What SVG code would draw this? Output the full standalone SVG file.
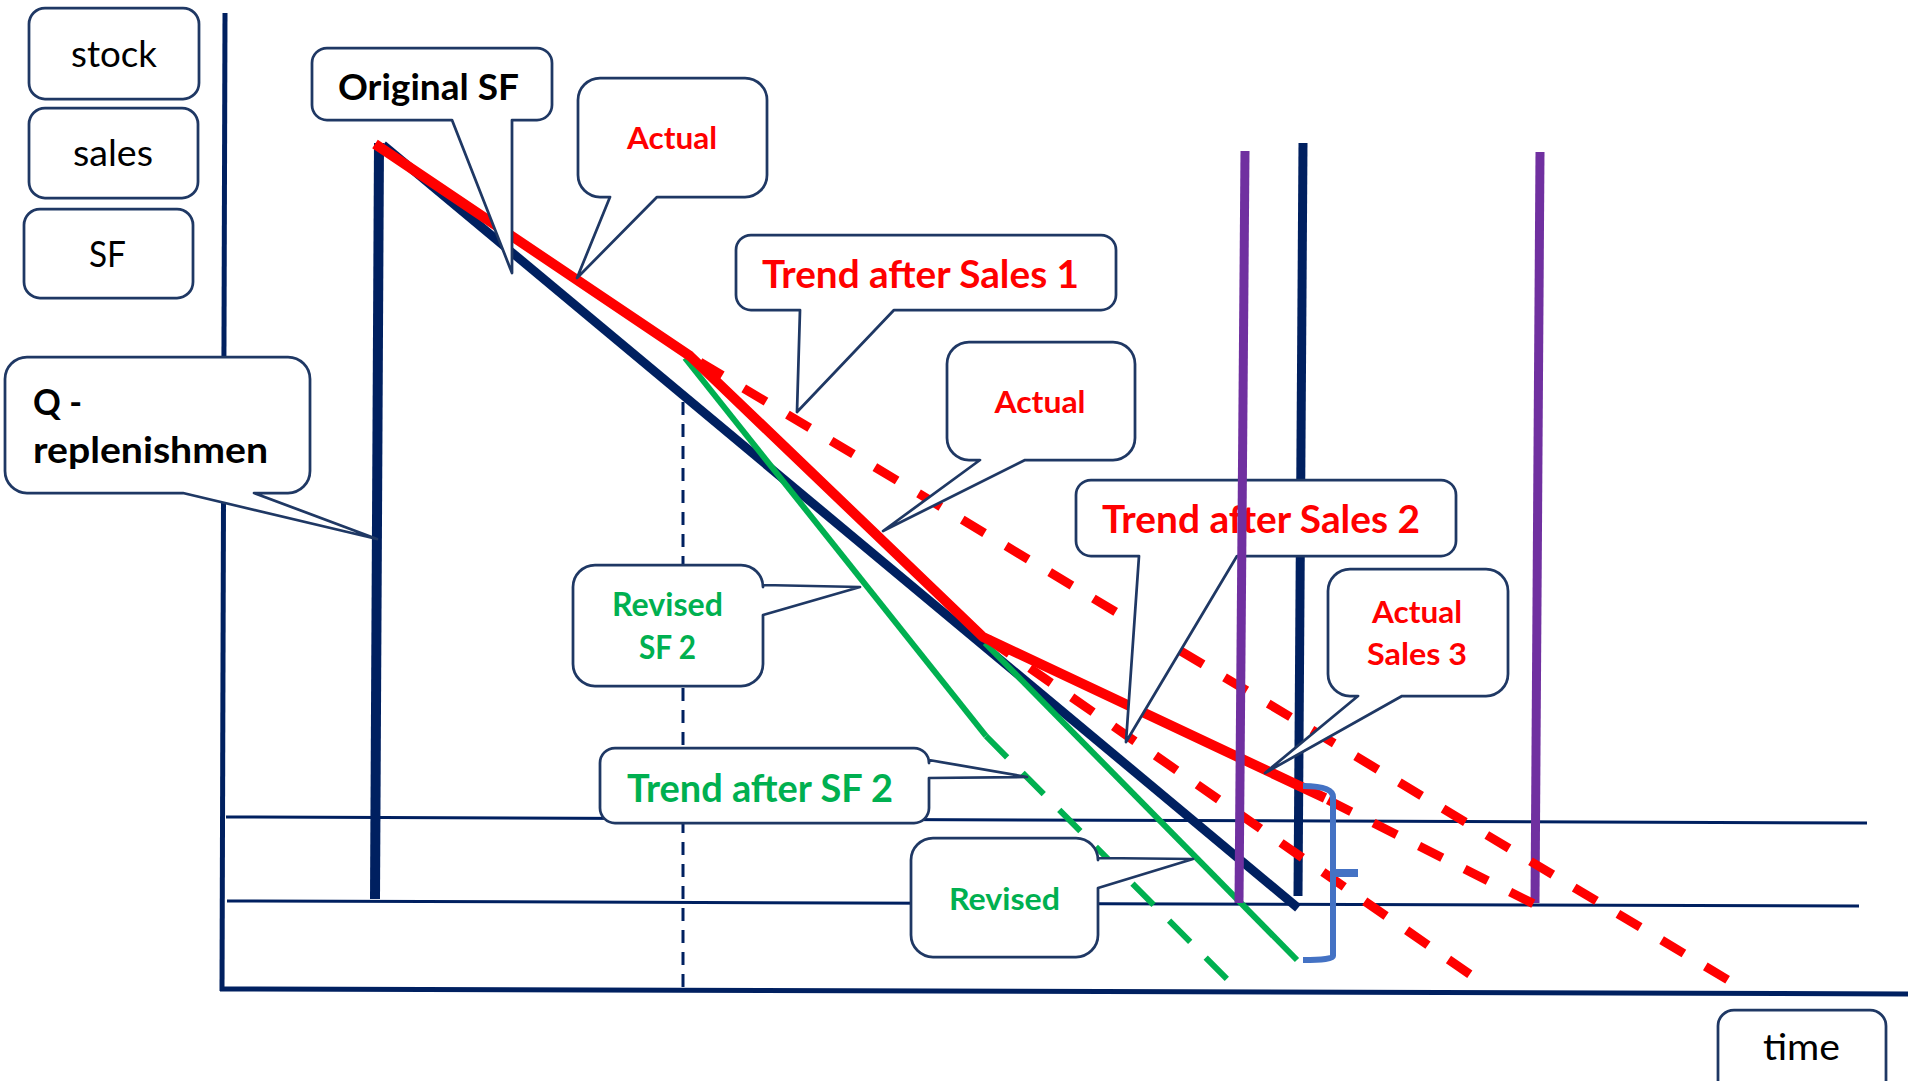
<svg xmlns="http://www.w3.org/2000/svg" width="1908" height="1081" viewBox="0 0 1908 1081">
<style>
  .box{fill:#fff;stroke:#1F3864;stroke-width:2.75;stroke-linejoin:round}
  .t{font-family:Lato,"Liberation Sans",sans-serif}
  .b{font-weight:bold}
  .blk{fill:#000}
  .red{fill:#FF0000}
  .grn{fill:#00B050}
  .axis{stroke:#002060;stroke-width:5;fill:none}
  .thin{stroke:#002060;stroke-width:3;fill:none}
  .navy{stroke:#002060;stroke-width:9;fill:none}
  .purple{stroke:#7030A0;stroke-width:9;fill:none}
  .rsolid{stroke:#FF0000;stroke-width:10;fill:none;stroke-linejoin:round}
  .rdash{stroke:#FF0000;stroke-width:9;fill:none;stroke-dasharray:26 25}
  .gsolid{stroke:#00B050;stroke-width:6;fill:none}
  .gdash{stroke:#00B050;stroke-width:6;fill:none;stroke-dasharray:30 22}
  .vdash{stroke:#002060;stroke-width:3;fill:none;stroke-dasharray:13 9}
  .brace{stroke:#4472C4;stroke-width:6;fill:none}
</style>
<rect x="0" y="0" width="1908" height="1081" fill="#fff"/>

<g id="chart-lines">
  <line class="axis" x1="225" y1="13" x2="222" y2="991"/>
  <line class="axis" x1="220" y1="989" x2="1908" y2="994"/>
  <line class="thin" x1="226" y1="817" x2="1867" y2="823"/>
  <line class="thin" x1="227" y1="901" x2="1859" y2="906"/>
  <line class="vdash" x1="683" y1="402" x2="683" y2="988"/>
  <line class="navy" x1="379" y1="143" x2="375" y2="899" style="stroke-width:10"/>
  <line class="navy" x1="383" y1="145" x2="1298" y2="908"/>
  <line class="navy" x1="1303" y1="143" x2="1298" y2="896"/>
  <line class="gsolid" x1="685" y1="358" x2="986" y2="736"/>
  <line class="gdash" x1="986" y1="736" x2="1227" y2="979"/>
  <line class="gsolid" x1="985" y1="643" x2="1297" y2="960"/>
  <polyline class="rsolid" points="375,144 690,356 983,637 1325,798"/>
  <line class="purple" x1="1540" y1="152" x2="1535" y2="903"/>
  <line class="rdash" x1="700" y1="362" x2="1728" y2="980"/>
  <line class="rdash" x1="988" y1="639" x2="1478" y2="980"/>
  <line class="rdash" x1="1328" y1="800" x2="1542" y2="908"/>
</g>

<g id="legend-stock">
  <rect class="box" x="29" y="8" width="170" height="91" rx="16"/>
  <text class="t blk" x="114" y="67" font-size="37" text-anchor="middle" textLength="86" lengthAdjust="spacingAndGlyphs">stock</text>
</g>
<g id="legend-sales">
  <rect class="box" x="29" y="108" width="169" height="90" rx="16"/>
  <text class="t blk" x="113" y="166" font-size="37" text-anchor="middle" textLength="80" lengthAdjust="spacingAndGlyphs">sales</text>
</g>
<g id="legend-sf">
  <rect class="box" x="24" y="209" width="169" height="89" rx="16"/>
  <text class="t blk" x="107.5" y="267" font-size="37" text-anchor="middle" textLength="37" lengthAdjust="spacingAndGlyphs">SF</text>
</g>

<g id="callout-q">
  <path class="box" d="M27,357 H288 A22,22 0 0 1 310,379 V471 A22,22 0 0 1 288,493 H254 L377,539 L183,493 H27 A22,22 0 0 1 5,471 V379 A22,22 0 0 1 27,357 Z"/>
  <text class="t b blk" x="33" y="415" font-size="36.5" textLength="49" lengthAdjust="spacingAndGlyphs">Q -</text>
  <text class="t b blk" x="33" y="463" font-size="36.5" textLength="235" lengthAdjust="spacingAndGlyphs">replenishmen</text>
</g>

<g id="callout-original-sf">
  <path class="box" d="M327,48 H537 A15,15 0 0 1 552,63 V105 A15,15 0 0 1 537,120 H512 L512,273 L452,120 H327 A15,15 0 0 1 312,105 V63 A15,15 0 0 1 327,48 Z"/>
  <text class="t b blk" x="428.5" y="100" font-size="36.5" text-anchor="middle" textLength="181" lengthAdjust="spacingAndGlyphs">Original SF</text>
</g>

<g id="callout-actual-1">
  <path class="box" d="M600,78 H745 A22,22 0 0 1 767,100 V175 A22,22 0 0 1 745,197 H657 L577,278 L610,197 H600 A22,22 0 0 1 578,175 V100 A22,22 0 0 1 600,78 Z"/>
  <text class="t b red" x="672" y="149" font-size="31" text-anchor="middle" textLength="90" lengthAdjust="spacingAndGlyphs">Actual</text>
</g>

<g id="callout-trend-sales-1">
  <path class="box" d="M751,235 H1101 A15,15 0 0 1 1116,250 V295 A15,15 0 0 1 1101,310 H894 L797,412 L800,310 H751 A15,15 0 0 1 736,295 V250 A15,15 0 0 1 751,235 Z"/>
  <text class="t b red" x="920.5" y="288" font-size="37.5" text-anchor="middle" textLength="317" lengthAdjust="spacingAndGlyphs">Trend after Sales 1</text>
</g>

<g id="callout-actual-2">
  <path class="box" d="M969,342 H1113 A22,22 0 0 1 1135,364 V438 A22,22 0 0 1 1113,460 H1025 L883,531 L980,460 H969 A22,22 0 0 1 947,438 V364 A22,22 0 0 1 969,342 Z"/>
  <text class="t b red" x="1040" y="413" font-size="31" text-anchor="middle" textLength="91" lengthAdjust="spacingAndGlyphs">Actual</text>
</g>

<g id="callout-trend-sales-2">
  <path class="box" d="M1091,480 H1441 A15,15 0 0 1 1456,495 V541 A15,15 0 0 1 1441,556 H1237 L1126,742 L1139,556 H1091 A15,15 0 0 1 1076,541 V495 A15,15 0 0 1 1091,480 Z"/>
  <text class="t b red" x="1261" y="533" font-size="37.5" text-anchor="middle" textLength="318" lengthAdjust="spacingAndGlyphs">Trend after Sales 2</text>
</g>

<g id="callout-actual-sales-3">
  <path class="box" d="M1350,569 H1486 A22,22 0 0 1 1508,591 V674 A22,22 0 0 1 1486,696 H1402 L1265,773 L1358,696 H1350 A22,22 0 0 1 1328,674 V591 A22,22 0 0 1 1350,569 Z"/>
  <text class="t b red" x="1417" y="623" font-size="31" text-anchor="middle" textLength="90" lengthAdjust="spacingAndGlyphs">Actual</text>
  <text class="t b red" x="1417" y="665" font-size="31" text-anchor="middle" textLength="100" lengthAdjust="spacingAndGlyphs">Sales 3</text>
</g>

<g id="callout-revised-sf-2">
  <path class="box" d="M595,565 H741 A22,22 0 0 1 763,587 V585 L860,587 L763,615 V664 A22,22 0 0 1 741,686 H595 A22,22 0 0 1 573,664 V587 A22,22 0 0 1 595,565 Z"/>
  <text class="t b grn" x="667.5" y="616" font-size="32" text-anchor="middle" textLength="111" lengthAdjust="spacingAndGlyphs">Revised</text>
  <text class="t b grn" x="667.5" y="659" font-size="32" text-anchor="middle" textLength="57" lengthAdjust="spacingAndGlyphs">SF 2</text>
</g>

<g id="callout-trend-sf-2">
  <path class="box" d="M615,748 H914 A15,15 0 0 1 929,763 V760 L1027,777 L929,778 V808 A15,15 0 0 1 914,823 H615 A15,15 0 0 1 600,808 V763 A15,15 0 0 1 615,748 Z"/>
  <text class="t b grn" x="760" y="802" font-size="37.5" text-anchor="middle" textLength="266" lengthAdjust="spacingAndGlyphs">Trend after SF 2</text>
</g>

<g id="callout-revised">
  <path class="box" d="M933,838 H1076 A22,22 0 0 1 1098,860 V858 L1193,859 L1098,888 V935 A22,22 0 0 1 1076,957 H933 A22,22 0 0 1 911,935 V860 A22,22 0 0 1 933,838 Z"/>
  <text class="t b grn" x="1004.5" y="910" font-size="31" text-anchor="middle" textLength="111" lengthAdjust="spacingAndGlyphs">Revised</text>
</g>

<g id="label-time">
  <rect class="box" x="1718" y="1010" width="168" height="90" rx="16"/>
  <text class="t blk" x="1801.5" y="1060" font-size="36" text-anchor="middle" textLength="77" lengthAdjust="spacingAndGlyphs">time</text>
</g>

<g id="overlay-lines">
  <line class="purple" x1="1245" y1="151" x2="1239" y2="903"/>
  <path class="brace" d="M1303,786 Q1333,786 1333,797 V956 Q1333,960 1303,960"/>
  <line class="brace" x1="1333" y1="873" x2="1358" y2="873" style="stroke-width:8"/>
</g>
</svg>
